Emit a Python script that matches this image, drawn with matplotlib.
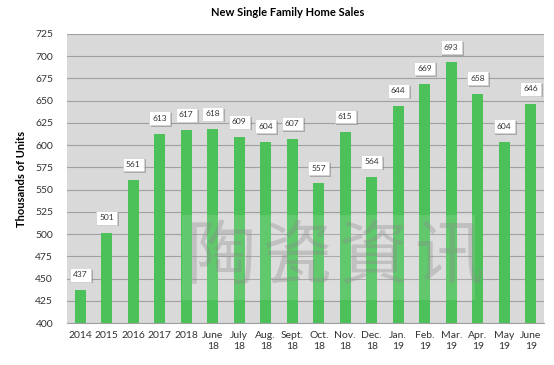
import matplotlib
matplotlib.use("Agg")
import matplotlib.pyplot as plt
import matplotlib.patheffects as pe
import numpy as np

plt.rcParams['font.family'] = ['Lato', 'DejaVu Sans']

categories = ["2014", "2015", "2016", "2017", "2018", "June\n18", "July\n18", "Aug.\n18",
              "Sept.\n18", "Oct.\n18", "Nov.\n18", "Dec.\n18", "Jan.\n19", "Feb.\n19",
              "Mar.\n19", "Apr.\n19", "May\n19", "June\n19"]
sales = [437, 501, 561, 613, 617, 618, 609, 604, 607, 557, 615, 564, 644, 669, 693, 658, 604, 646]
yticks = list(range(400, 726, 25))
watermark = ["陶", "瓷", "資", "讯"]

fig = plt.figure(figsize=(5.54, 3.65), dpi=100)
ax = fig.add_axes([0.121, 0.115, 0.861, 0.792])
ax.set_facecolor("#d9d9d9")

x = np.arange(len(categories))
ax.bar(x, sales, width=0.42, color="#4cc159", zorder=3)

for xi, v in zip(x, sales):
    t = ax.annotate(str(v), (xi, v), xytext=(0, 11), textcoords="offset points",
                    ha="center", va="center", fontsize=6, color="#333333", zorder=5,
                    bbox=dict(boxstyle="square,pad=0.4", fc="white", ec="#d0d0d0", lw=0.5))
    t.get_bbox_patch().set_path_effects(
        [pe.withSimplePatchShadow(offset=(1.2, -1.2), shadow_rgbFace="#7a7a7a", alpha=0.5)])

# watermark overlay
fig.patches.append(plt.Rectangle((0.329, 0.178), 0.529, 0.233, transform=fig.transFigure,
                                 fc="white", alpha=0.12, ec="none", zorder=4))
for i, ch in enumerate(watermark):
    fig.text(0.400 + i * 0.137, 0.293, ch, ha="center", va="center", fontsize=50,
             color="#8a8a8a", alpha=0.35, zorder=6,
             family=['Noto Sans CJK SC', 'DejaVu Sans'])

ax.set_xlim(-0.5, len(categories) - 0.5)
ax.set_ylim(400, 725)
ax.set_yticks(yticks)
ax.set_xticks(x)
ax.set_xticklabels(categories, fontsize=7.5, color="#333333")
ax.tick_params(axis="y", labelsize=7.5, colors="#333333", length=0, pad=10)
ax.tick_params(axis="x", length=0, pad=6)
ax.grid(axis="y", color="#a0a0a0", lw=0.8, zorder=1)
for s in ["top", "right", "left"]:
    ax.spines[s].set_visible(False)
ax.spines["bottom"].set_color("#a0a0a0")

ax.set_ylabel("Thousands of Units", fontsize=8, fontweight="bold", labelpad=6)
fig.text(0.52, 0.965, "New Single Family Home Sales", ha="center", va="center",
         fontsize=8, fontweight="bold")

fig.savefig("out.png", dpi=100, facecolor="white")
